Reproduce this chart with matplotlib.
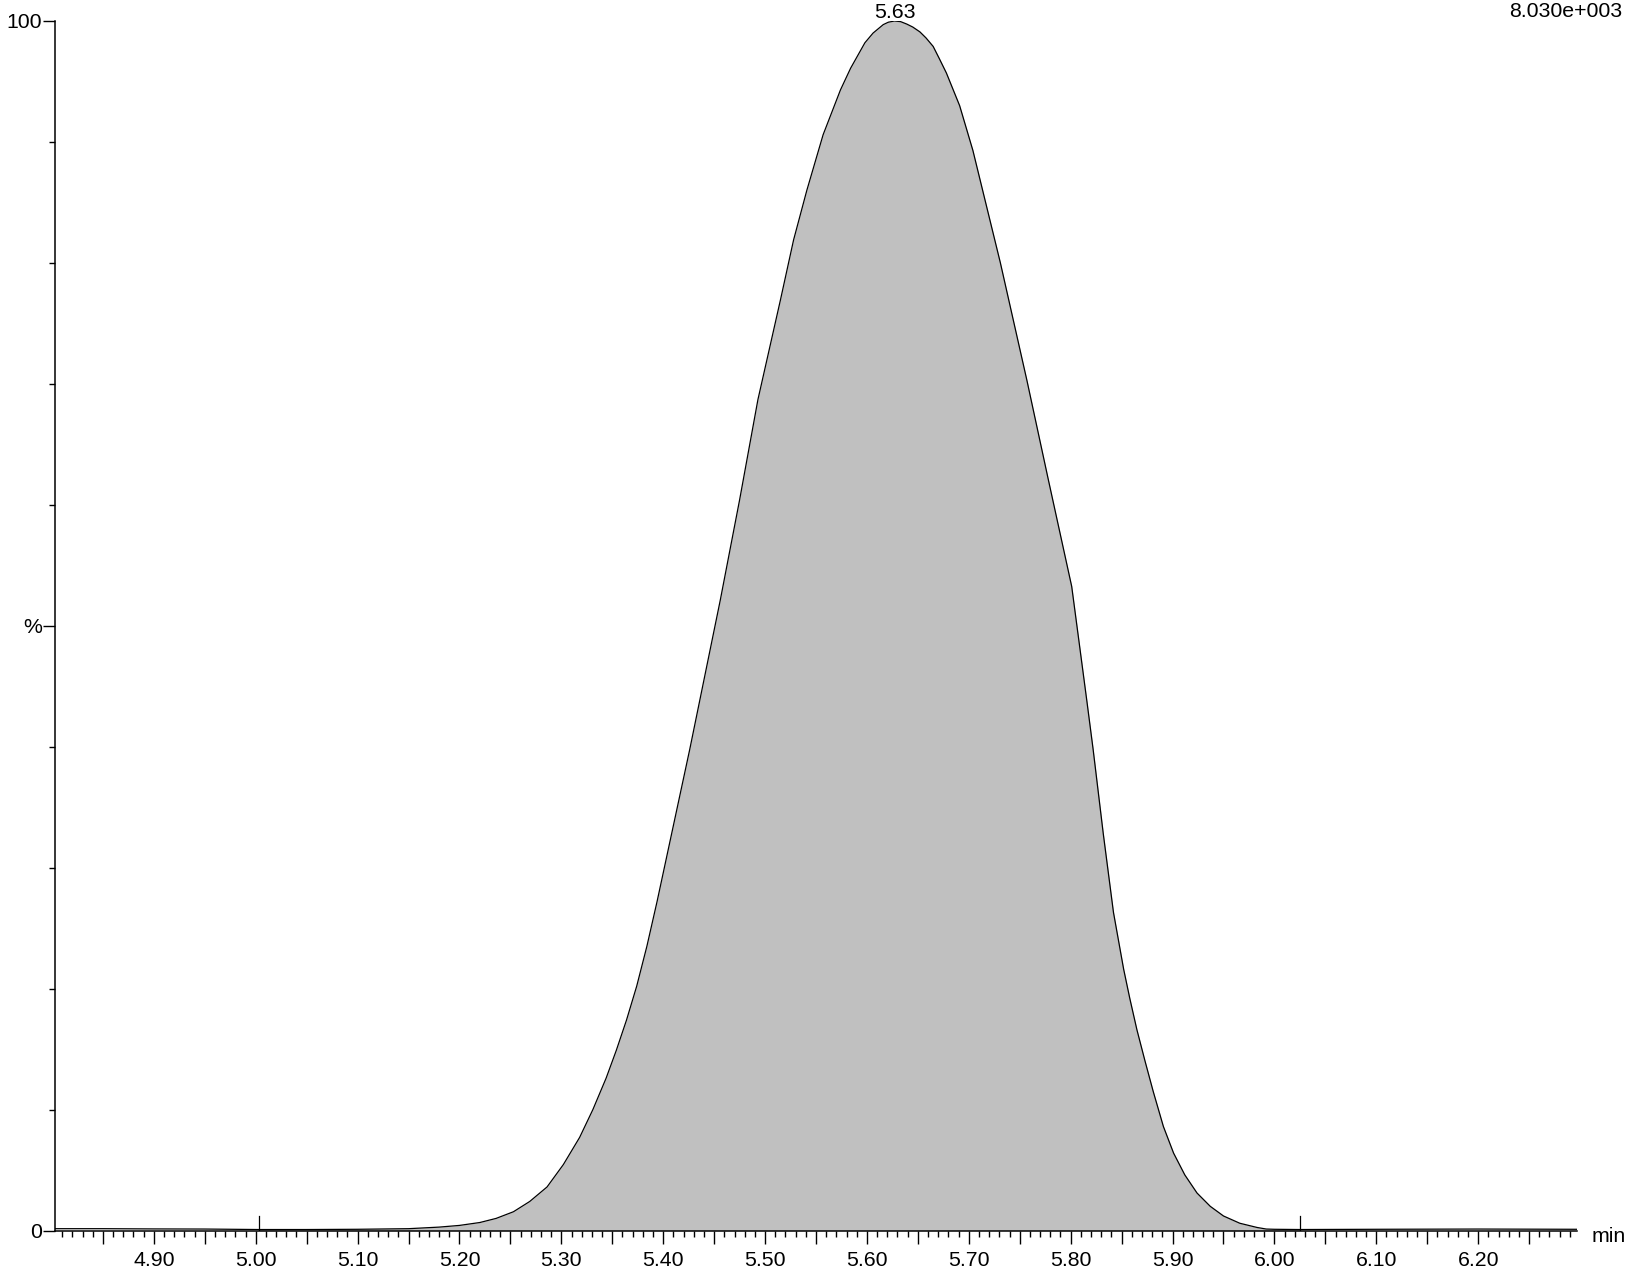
import numpy as np
import matplotlib.pyplot as plt
from matplotlib.ticker import FixedLocator, FixedFormatter

plt.rcParams['font.family'] = ['Liberation Sans', 'DejaVu Sans']

# retention time (min) and relative intensity (%)
time_min = [4.803, 4.85, 4.90, 4.95, 5.003, 5.05, 5.10, 5.15, 5.18, 5.20,
            5.22, 5.236, 5.253, 5.269, 5.286, 5.302, 5.318, 5.331, 5.344, 5.354,
            5.364, 5.374, 5.384, 5.394, 5.426, 5.456, 5.475, 5.493, 5.515, 5.528,
            5.541, 5.557, 5.574, 5.584, 5.598, 5.606, 5.616, 5.621, 5.627, 5.633,
            5.639, 5.645, 5.652, 5.658, 5.665, 5.671, 5.678, 5.691, 5.704, 5.731,
            5.757, 5.778, 5.801, 5.808, 5.816, 5.822, 5.832, 5.842, 5.852, 5.858,
            5.865, 5.873, 5.881, 5.891, 5.901, 5.912, 5.924, 5.937, 5.950, 5.966,
            5.983, 5.992, 6.00, 6.025, 6.10, 6.20, 6.297]
intensity = [0.15, 0.15, 0.13, 0.12, 0.08, 0.08, 0.10, 0.15, 0.28, 0.42,
             0.66, 1.0, 1.55, 2.4, 3.6, 5.45, 7.7, 10.0, 12.6, 14.9,
             17.4, 20.2, 23.5, 27.2, 39.75, 52.1, 60.4, 68.7, 76.9, 81.9,
             86.0, 90.6, 94.3, 96.1, 98.2, 99.0, 99.7, 99.9, 100.0, 99.95,
             99.75, 99.5, 99.1, 98.6, 97.9, 96.9, 95.7, 93.0, 89.3, 80.0,
             70.3, 62.1, 53.25, 48.8, 43.7, 39.8, 32.8, 26.3, 21.6, 19.2,
             16.6, 14.0, 11.5, 8.6, 6.4, 4.6, 3.1, 2.0, 1.2, 0.6,
             0.25, 0.12, 0.1, 0.08, 0.1, 0.12, 0.1]

# integration limits (peak start / end markers)
peak_start = 5.003
peak_end = 6.025
max_counts = "8.030e+003"

x_labels = ["4.90", "5.00", "5.10", "5.20", "5.30", "5.40", "5.50", "5.60",
            "5.70", "5.80", "5.90", "6.00", "6.10", "6.20"]

t = np.array(time_min)
y = np.array(intensity)

W, H = 1632, 1269
fig = plt.figure(figsize=(W / 100, H / 100), dpi=100)
x0, x1, ytop, ybot = 55, 1577, 21, 1230.5
ax = fig.add_axes([x0 / W, 1 - ybot / H, (x1 - x0) / W, (ybot - ytop) / H])

inside = (t >= peak_start) & (t <= peak_end)
ax.fill_between(t, 0, y, where=inside, color='#c0c0c0', lw=0)
ax.plot(t, y, color='black', lw=0.9)

# start / end markers
for m in [peak_start, peak_end]:
    ax.plot([m, m], [0, 1.2], color='black', lw=0.9)

ax.set_xlim(4.803, 6.297)
ax.set_ylim(0, 100)

for s in ['top', 'right']:
    ax.spines[s].set_visible(False)
for s in ['left', 'bottom']:
    ax.spines[s].set_linewidth(1.1)

# x ticks: long every 0.05, labels every 0.1, short every 0.01
major_x = [round(4.85 + 0.05 * i, 2) for i in range(29)]
major_lab = []
for v in major_x:
    lab = f"{v:.2f}"
    major_lab.append(lab if lab in x_labels else "")
ax.xaxis.set_major_locator(FixedLocator(major_x))
ax.xaxis.set_major_formatter(FixedFormatter(major_lab))
ax.xaxis.set_minor_locator(FixedLocator([round(4.81 + 0.01 * i, 2) for i in range(149)]))

ax.yaxis.set_major_locator(FixedLocator([0, 50, 100]))
ax.yaxis.set_major_formatter(FixedFormatter(["0", "%", "100"]))
ax.yaxis.set_minor_locator(FixedLocator([10, 20, 30, 40, 60, 70, 80, 90]))

ax.tick_params(axis='x', which='major', length=9, width=1, pad=6, labelsize=15.3)
ax.tick_params(axis='x', which='minor', length=4.3, width=1)
ax.tick_params(axis='y', which='major', length=8.6, width=1, pad=1, labelsize=15.3)
ax.tick_params(axis='y', which='minor', length=4.3, width=1)

# peak apex label
ip = int(np.argmax(y))
ax.annotate(f"{t[ip]:.2f}", (t[ip], y[ip]), xytext=(0, 2.4), textcoords='offset points',
            ha='center', va='baseline', fontsize=15.3, annotation_clip=False)

fig.text(1622.7 / W, 1 - 16.7 / H, max_counts, ha='right', va='baseline', fontsize=15.3)
fig.text(1592 / W, 1 - 1236 / H, "min", ha='left', va='center', fontsize=15.3)

fig.savefig("out.png", dpi=100)
